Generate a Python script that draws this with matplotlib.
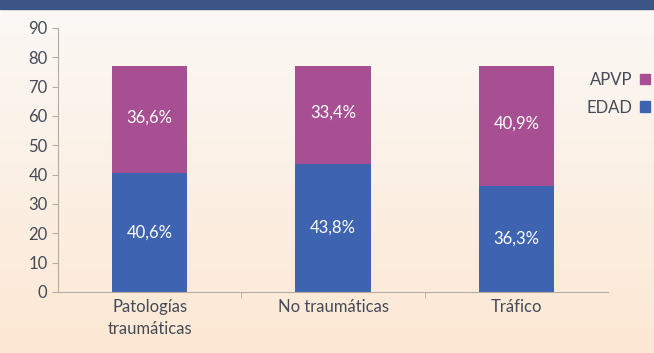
import matplotlib.pyplot as plt
import matplotlib.patches as mpatches
import numpy as np

categorias = ["Patologías\ntraumáticas", "No traumáticas", "Tráfico"]
edad = [40.6, 43.8, 36.3]
apvp = [36.6, 33.4, 40.9]
etiquetas_edad = ["40,6%", "43,8%", "36,3%"]
etiquetas_apvp = ["36,6%", "33,4%", "40,9%"]

color_edad = "#3e63b0"
color_apvp = "#a84f93"
color_texto = "#454a58"

plt.rcParams['font.family'] = ['Lato', 'DejaVu Sans']

fig = plt.figure(figsize=(6.54, 3.53), dpi=100)

# fondo degradado
bg = fig.add_axes([0, 0, 1, 1], zorder=-10)
grad = np.linspace(0, 1, 256).reshape(-1, 1)
top = np.array([0.985, 0.975, 0.965])
bottom = np.array([0.99, 0.91, 0.83])
img = top + (bottom - top) * grad[:, :, None]
bg.imshow(img, aspect="auto", extent=[0, 1, 0, 1])
bg.add_patch(mpatches.Rectangle((0, 0.975), 1, 0.03, color="#3b5686"))
bg.set_xlim(0, 1)
bg.set_ylim(0, 1)
bg.axis("off")

ax = fig.add_axes([58 / 654, 61 / 353, 550 / 654, 264 / 353])
ax.patch.set_alpha(0)

x = np.arange(len(categorias))
ancho = 0.41
ax.bar(x, edad, ancho, color=color_edad, label="EDAD")
ax.bar(x, apvp, ancho, bottom=edad, color=color_apvp, label="APVP")

for i in range(len(x)):
    ax.text(x[i], edad[i] / 2, etiquetas_edad[i], ha="center", va="center",
            color="white", fontsize=12)
    ax.text(x[i], edad[i] + apvp[i] / 2 + 0.5, etiquetas_apvp[i], ha="center", va="center",
            color="white", fontsize=12)

ax.set_xlim(-0.5, 2.5)
ax.set_ylim(0, 90)
ax.set_yticks(range(0, 91, 10))
ax.set_xticks([0.5, 1.5], minor=True)
ax.set_xticks(x)
ax.set_xticklabels(categorias, fontsize=12, color=color_texto, linespacing=1.45)
ax.tick_params(axis="y", labelsize=12, labelcolor=color_texto, color="#b5aca4", length=4)
ax.tick_params(axis="x", which="major", length=0, pad=5)
ax.tick_params(axis="x", which="minor", length=4, color="#b5aca4")
for s in ["top", "right"]:
    ax.spines[s].set_visible(False)
for s in ["left", "bottom"]:
    ax.spines[s].set_color("#b5aca4")

patches = [mpatches.Patch(color=color_apvp, label="APVP"),
           mpatches.Patch(color=color_edad, label="EDAD")]
fig.legend(handles=patches, loc="upper left", bbox_to_anchor=(572 / 654, 1 - 57 / 353),
           frameon=False, markerfirst=False, handlelength=0.6, handleheight=0.6,
           handletextpad=0.4, labelspacing=0.7, fontsize=12, labelcolor=color_texto)

fig.savefig("out.png", dpi=100)
